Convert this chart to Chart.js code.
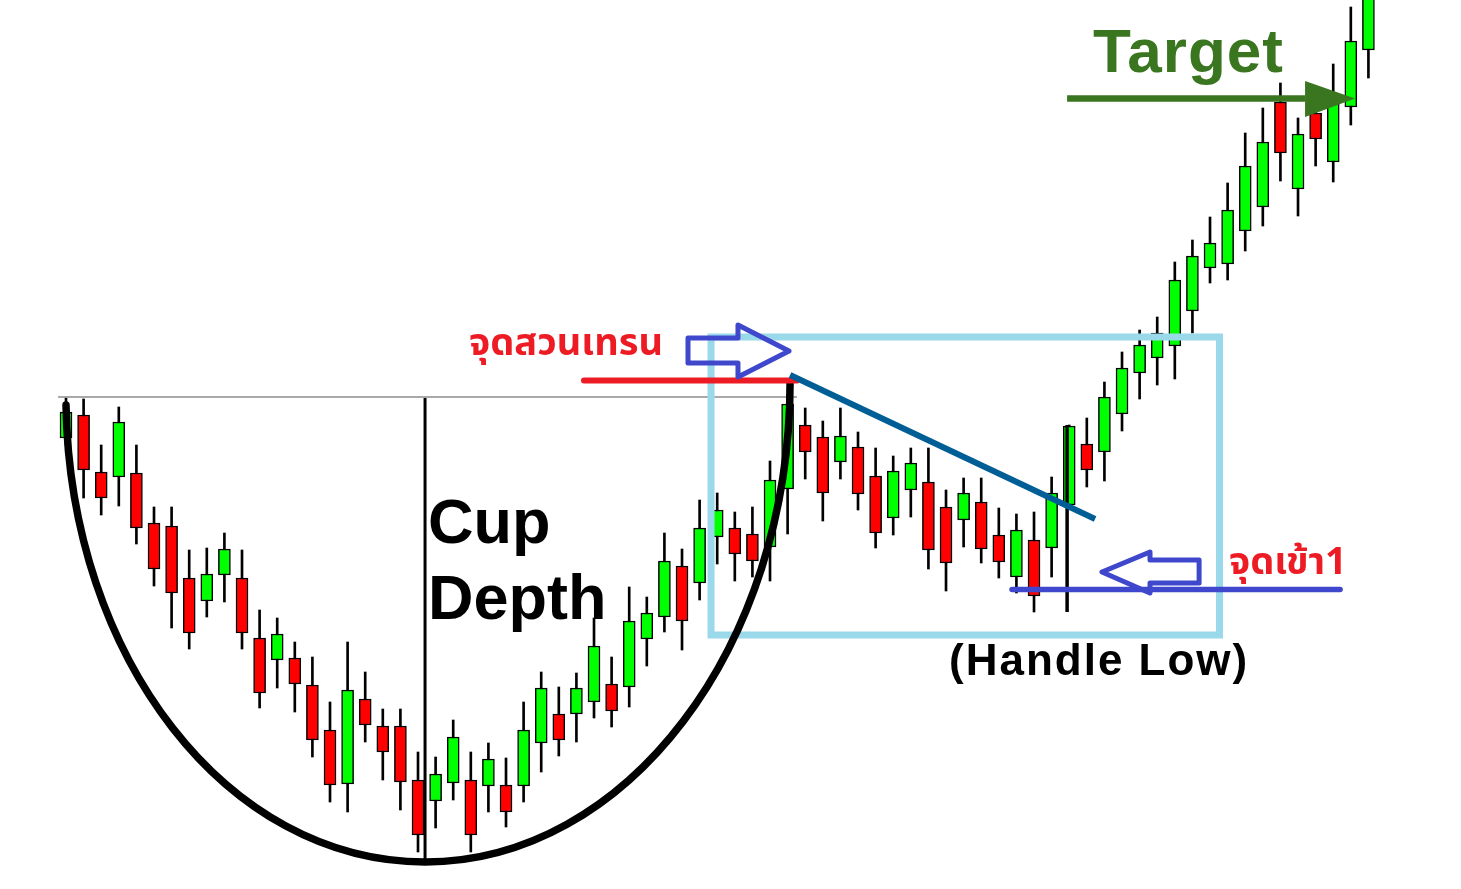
<!DOCTYPE html>
<html>
<head>
<meta charset="utf-8">
<script src="https://cdn.jsdelivr.net/npm/chart.js@4.4.1/dist/chart.umd.min.js"></script>
<style>
  html, body { margin: 0; padding: 0; background: #fff; }
  #wrap { position: relative; width: 1461px; height: 889px; overflow: hidden; }
  #grafico { position: absolute; left: 0; top: 0; }
  .lbl { position: absolute; white-space: nowrap; line-height: 1; font-family: "Liberation Sans", Arial, sans-serif; font-weight: bold; }
  .thai { font-family: "Noto Sans Thai", "Noto Sans", "DejaVu Sans", sans-serif; font-weight: bold; color: #ed1c24; }
</style>
</head>
<body>
<div id="wrap">
  <canvas id="grafico" width="1461" height="889"></canvas>
  <div class="lbl" style="left:428px;top:490px;font-size:63px;color:#000">Cup</div>
  <div class="lbl" style="left:428px;top:566px;font-size:63px;color:#000">Depth</div>
  <div class="lbl" style="left:1093px;top:20px;font-size:62px;letter-spacing:1px;color:#3a7520">Target</div>
  <div class="lbl" style="left:949px;top:638px;font-size:44px;letter-spacing:2px;color:#000">(Handle Low)</div>
  <div class="lbl thai" style="left:469px;top:325px;font-size:38px">จุดสวนเทรน</div>
  <div class="lbl thai" style="left:1229px;top:544px;font-size:38px">จุดเข้า1</div>
</div>
<script>
// Preço de cada vela, uma vela por posição
const abertura = [451, 474, 417, 412, 416, 366, 363, 311, 288, 314, 311, 251, 229, 231, 204, 159, 105, 190, 163, 163,
  109, 88, 106, 109, 103, 104, 103, 146, 175, 175, 187, 205, 202, 250, 272, 323, 306, 352, 361, 355,
  342, 400, 464, 452, 427, 442, 413, 371, 399, 407, 382, 369, 387, 354, 312, 349, 341, 384, 445, 437,
  475, 516, 531, 543, 578, 621, 625, 658, 682, 787, 700, 776, 727, 782, 839];
const fechamento = [477, 419, 391, 467, 361, 320, 296, 256, 315, 340, 256, 196, 255, 205, 149, 104, 199, 164, 137, 107,
  54, 115, 152, 54, 130, 77, 159, 201, 149, 201, 243, 178, 268, 276, 328, 268, 361, 379, 335, 328,
  409, 485, 437, 396, 453, 395, 356, 418, 426, 339, 326, 396, 340, 327, 359, 293, 396, 463, 419, 492,
  521, 544, 556, 609, 633, 646, 679, 723, 747, 736, 755, 750, 791, 848, 909];
const maximas = [491, 490, 444, 482, 444, 382, 382, 339, 341, 356, 339, 279, 271, 247, 232, 187, 247, 217, 180, 180,
  137, 132, 169, 137, 146, 131, 187, 217, 202, 216, 271, 232, 302, 292, 356, 340, 389, 396, 377, 382,
  428, 494, 481, 468, 481, 457, 441, 433, 441, 441, 399, 411, 411, 381, 375, 377, 412, 464, 471, 507,
  537, 559, 572, 627, 649, 672, 706, 756, 781, 806, 771, 789, 825, 882, 929];
const minimas = [444, 391, 374, 383, 345, 303, 261, 240, 272, 287, 240, 181, 201, 177, 132, 87, 77, 147, 109, 79,
  37, 61, 89, 37, 77, 62, 87, 117, 133, 147, 171, 162, 182, 223, 257, 239, 289, 325, 308, 312,
  308, 355, 410, 368, 410, 379, 341, 354, 372, 320, 298, 342, 326, 311, 296, 277, 312, 384, 402, 408,
  458, 490, 504, 510, 556, 606, 609, 638, 663, 708, 673, 723, 707, 764, 811];
const indices = abertura.map((_, i) => i);

// Marcações do padrão (posição da vela, preço)
const linhaTopo = { de: -0.45, ate: 41.53, preco: 492 };
const copo = { inicio: [0, 484], fundo: [20.4, 27], fim: [41.14, 507] };
const linhaProfundidade = { pos: 20.4, de: 491, ate: 27 };
const caixaAlca = { esq: 36.65, dir: 65.54, topo: 552, base: 254 };
const linhaVermelha = { de: 29.43, ate: 41.53, preco: 508.5 };
const setaDireita = { esq: 35.34, base: 38.18, ponta: 41.08, topo: 551, fundo: 526, cabecaTopo: 564, cabecaFundo: 512, meio: 538 };
const linhaTendencia = [[41.14, 514], [58.47, 370]];
const linhaAlcaLow = { pos: 56.88, de: 464, ate: 277 };
const linhaEntrada = { de: 53.75, ate: 72.39, preco: 299.5 };
const setaEsquerda = { dir: 64.38, base: 61.59, ponta: 58.86, topo: 329, fundo: 306, cabecaTopo: 337, cabecaFundo: 296, meio: 317 };
const setaAlvo = { de: 56.88, base: 70.4, ponta: 73.24, preco: 790.5, cabecaTopo: 808, cabecaFundo: 772 };

const corpos = indices.map(i => ({ x: i, y: [abertura[i], fechamento[i]] }));
const pavios = indices.map(i => ({ x: i, y: [minimas[i], maximas[i]] }));
const cores = indices.map(i => fechamento[i] >= abertura[i] ? '#00ff00' : '#ff0000');

const annotacoes = {
  id: 'annotacoes',
  afterDatasetsDraw(chart) {
    const ctx = chart.ctx;
    const px = v => chart.scales.x.getPixelForValue(v);
    const py = v => chart.scales.y.getPixelForValue(v);
    ctx.save();
    ctx.lineJoin = 'round';

    // linha cinza do topo do copo
    ctx.strokeStyle = '#8c8c8c';
    ctx.lineWidth = 1.5;
    ctx.beginPath();
    ctx.moveTo(px(linhaTopo.de), py(linhaTopo.preco));
    ctx.lineTo(px(linhaTopo.ate), py(linhaTopo.preco));
    ctx.stroke();

    // caixa azul clara da alça
    ctx.strokeStyle = '#99d9ea';
    ctx.lineWidth = 7;
    ctx.lineJoin = 'miter';
    ctx.strokeRect(px(caixaAlca.esq), py(caixaAlca.topo), px(caixaAlca.dir) - px(caixaAlca.esq), py(caixaAlca.base) - py(caixaAlca.topo));
    ctx.lineJoin = 'round';

    // copo
    const [x0, y0] = [px(copo.inicio[0]), py(copo.inicio[1])];
    const [xb, yb] = [px(copo.fundo[0]), py(copo.fundo[1])];
    const [x1, y1] = [px(copo.fim[0]), py(copo.fim[1])];
    const k = 0.552;
    ctx.strokeStyle = '#000';
    ctx.lineWidth = 7.5;
    ctx.lineCap = 'round';
    ctx.beginPath();
    ctx.moveTo(x0, y0);
    ctx.bezierCurveTo(x0 + 4, y0 + k * (yb - y0), xb - k * (xb - x0), yb, xb, yb);
    ctx.bezierCurveTo(xb + k * (x1 - xb), yb, x1, y1 + k * (yb - y1), x1, y1);
    ctx.stroke();

    // profundidade do copo
    ctx.lineWidth = 3;
    ctx.lineCap = 'butt';
    ctx.beginPath();
    ctx.moveTo(px(linhaProfundidade.pos), py(linhaProfundidade.de));
    ctx.lineTo(px(linhaProfundidade.pos), py(linhaProfundidade.ate));
    ctx.stroke();

    // linha preta da mínima da alça
    ctx.lineWidth = 3.5;
    ctx.beginPath();
    ctx.moveTo(px(linhaAlcaLow.pos), py(linhaAlcaLow.de));
    ctx.lineTo(px(linhaAlcaLow.pos), py(linhaAlcaLow.ate));
    ctx.stroke();

    // linha vermelha (ponto de reversão)
    ctx.strokeStyle = '#ed1c24';
    ctx.lineWidth = 6;
    ctx.lineCap = 'round';
    ctx.beginPath();
    ctx.moveTo(px(linhaVermelha.de), py(linhaVermelha.preco));
    ctx.lineTo(px(linhaVermelha.ate), py(linhaVermelha.preco));
    ctx.stroke();

    // linha de tendência da alça
    ctx.strokeStyle = '#005e96';
    ctx.lineWidth = 6;
    ctx.lineCap = 'butt';
    ctx.beginPath();
    ctx.moveTo(px(linhaTendencia[0][0]), py(linhaTendencia[0][1]));
    ctx.lineTo(px(linhaTendencia[1][0]), py(linhaTendencia[1][1]));
    ctx.stroke();

    // linha azul de entrada
    ctx.strokeStyle = '#3f48cc';
    ctx.lineWidth = 5.5;
    ctx.lineCap = 'round';
    ctx.beginPath();
    ctx.moveTo(px(linhaEntrada.de), py(linhaEntrada.preco));
    ctx.lineTo(px(linhaEntrada.ate), py(linhaEntrada.preco));
    ctx.stroke();

    // setas vazadas azuis
    ctx.lineWidth = 5;
    const s = setaDireita;
    ctx.beginPath();
    ctx.moveTo(px(s.esq), py(s.topo));
    ctx.lineTo(px(s.base), py(s.topo));
    ctx.lineTo(px(s.base), py(s.cabecaTopo));
    ctx.lineTo(px(s.ponta), py(s.meio));
    ctx.lineTo(px(s.base), py(s.cabecaFundo));
    ctx.lineTo(px(s.base), py(s.fundo));
    ctx.lineTo(px(s.esq), py(s.fundo));
    ctx.closePath();
    ctx.stroke();

    const e = setaEsquerda;
    ctx.beginPath();
    ctx.moveTo(px(e.dir), py(e.topo));
    ctx.lineTo(px(e.base), py(e.topo));
    ctx.lineTo(px(e.base), py(e.cabecaTopo));
    ctx.lineTo(px(e.ponta), py(e.meio));
    ctx.lineTo(px(e.base), py(e.cabecaFundo));
    ctx.lineTo(px(e.base), py(e.fundo));
    ctx.lineTo(px(e.dir), py(e.fundo));
    ctx.closePath();
    ctx.stroke();

    // seta verde do alvo
    const a = setaAlvo;
    ctx.strokeStyle = '#3a7520';
    ctx.fillStyle = '#3a7520';
    ctx.lineWidth = 6.5;
    ctx.lineCap = 'butt';
    ctx.beginPath();
    ctx.moveTo(px(a.de), py(a.preco));
    ctx.lineTo(px(a.base), py(a.preco));
    ctx.stroke();
    ctx.beginPath();
    ctx.moveTo(px(a.base), py(a.cabecaTopo));
    ctx.lineTo(px(a.ponta), py(a.preco));
    ctx.lineTo(px(a.base), py(a.cabecaFundo));
    ctx.closePath();
    ctx.fill();

    ctx.restore();
  }
};

const ctx = document.getElementById('grafico').getContext('2d');
const myChart = new Chart(ctx, {
  type: 'bar',
  data: {
    datasets: [
      {
        label: 'Corpo',
        data: corpos,
        backgroundColor: cores,
        borderColor: '#000',
        borderWidth: 1.5,
        borderSkipped: false,
        barThickness: 12,
        grouped: false
      },
      {
        label: 'Pavio',
        data: pavios,
        backgroundColor: '#000',
        borderWidth: 0,
        barThickness: 2,
        grouped: false
      }
    ]
  },
  options: {
    responsive: false,
    animation: false,
    layout: { padding: 0 },
    plugins: { legend: { display: false }, tooltip: { enabled: false } },
    scales: {
      x: { type: 'linear', min: -3.75, max: 79.26, offset: false, display: false },
      y: { min: 0, max: 889, display: false }
    }
  },
  plugins: [annotacoes]
});
</script>
</body>
</html>
